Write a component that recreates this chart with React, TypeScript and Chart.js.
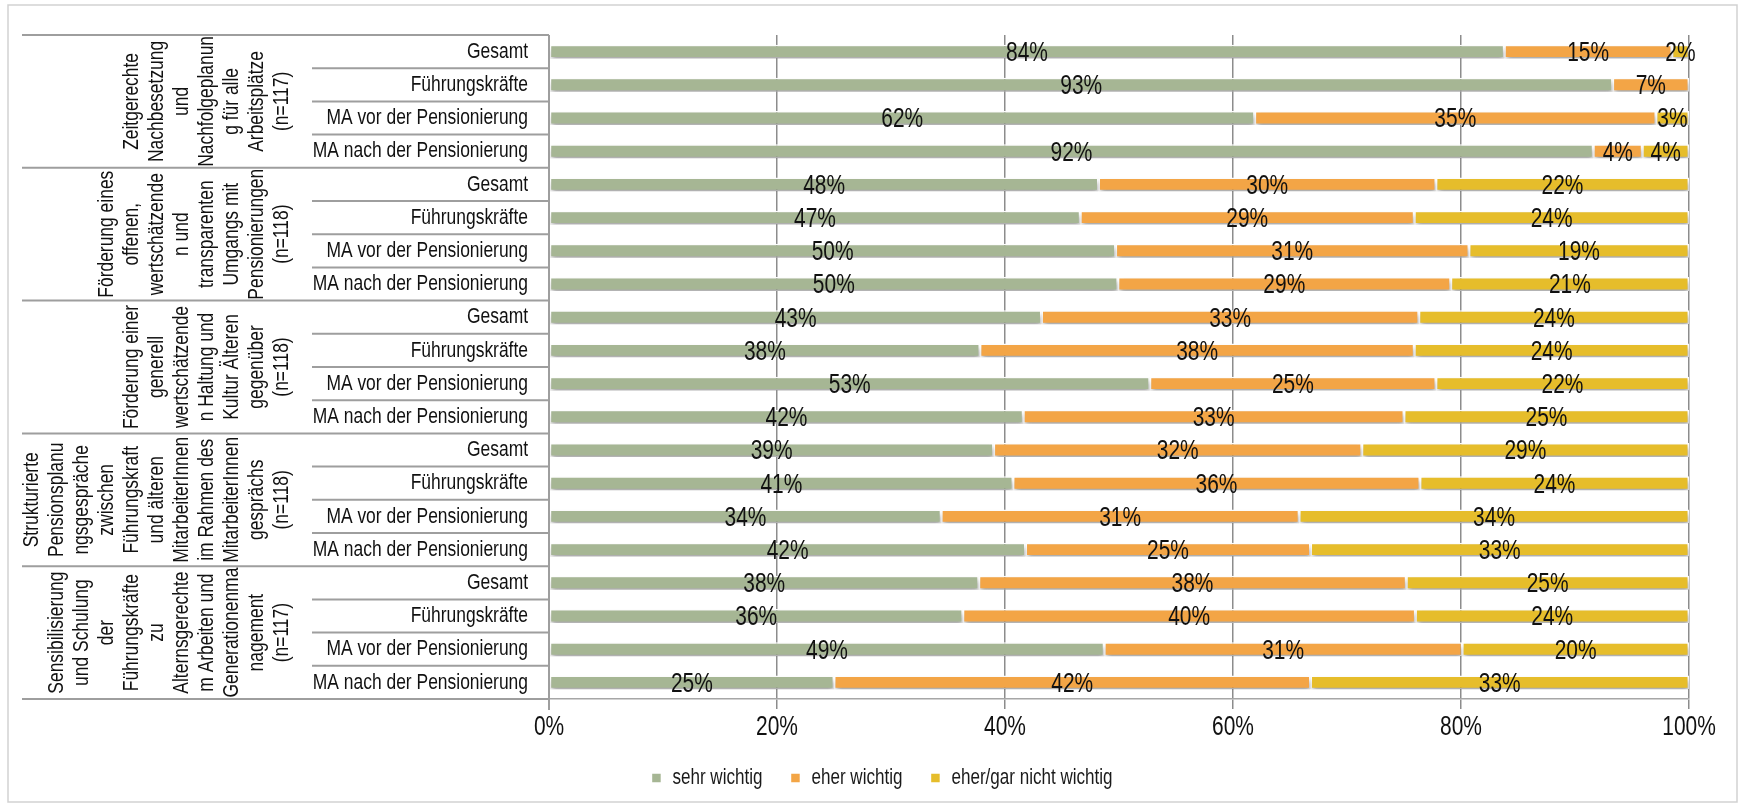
import React, { useEffect, useRef } from "react";
import { Chart, registerables } from "chart.js";

Chart.register(...registerables);

// ---------- data ----------
const rowLabels = [
  "Gesamt", "Führungskräfte", "MA vor der Pensionierung", "MA nach der Pensionierung",
  "Gesamt", "Führungskräfte", "MA vor der Pensionierung", "MA nach der Pensionierung",
  "Gesamt", "Führungskräfte", "MA vor der Pensionierung", "MA nach der Pensionierung",
  "Gesamt", "Führungskräfte", "MA vor der Pensionierung", "MA nach der Pensionierung",
  "Gesamt", "Führungskräfte", "MA vor der Pensionierung", "MA nach der Pensionierung",
];

const groupLabels: string[][] = [
  ["Zeitgerechte", "Nachbesetzung", "und", "Nachfolgeplanun", "g für alle", "Arbeitsplätze", "(n=117)"],
  ["Förderung eines", "offenen,", "wertschätzende", "n und", "transparenten", "Umgangs mit", "Pensionierungen", "(n=118)"],
  ["Förderung einer", "generell", "wertschätzende", "n Haltung und", "Kultur Älteren", "gegenüber", "(n=118)"],
  ["Strukturierte", "Pensionsplanu", "ngsgespräche", "zwischen", "Führungskraft", "und älteren", "MitarbeiterInnen", "im Rahmen des", "MitarbeiterInnen", "gesprächs", "(n=118)"],
  ["Sensibilisierung", "und Schulung", "der", "Führungskräfte", "zu", "Alternsgerechte", "m Arbeiten und", "Generationenma", "nagement", "(n=117)"],
];

const seriesNames = ["sehr wichtig", "eher wichtig", "eher/gar nicht wichtig"];

const sehrWichtig = [83.8, 93.3, 61.9, 91.6, 48.2, 46.6, 49.7, 49.9, 43.2, 37.8, 52.7, 41.6, 39.0, 40.7, 34.4, 41.8, 37.7, 36.3, 48.7, 25.0];
const eherWichtig = [14.7, 6.7, 35.2, 4.3, 29.6, 29.3, 31.0, 29.2, 33.1, 38.1, 25.1, 33.4, 32.3, 35.7, 31.4, 25.0, 37.5, 39.7, 31.4, 41.8];
const nichtWichtig = [1.5, 0, 2.9, 4.1, 22.2, 24.1, 19.3, 20.9, 23.7, 24.1, 22.2, 25.0, 28.7, 23.6, 34.2, 33.2, 24.8, 24.0, 19.9, 33.2];

const xTickValues = [0, 20, 40, 60, 80, 100];

// ---------- style ----------
const FONT = "'Liberation Sans', Arial, sans-serif";
const NARROW = 0.775; // horizontal compression to imitate the narrow face of the original
const COLORS = ["#A6B694", "#F3A546", "#E6BD2B"];
const GROUP_SIZE = 4;
const W = 1746;
const H = 807;

function makeNarrow(ctx: any, k: number) {
  if (!ctx || ctx.__narrow) return;
  ctx.__narrow = true;
  const ft = ctx.fillText.bind(ctx);
  const mt = ctx.measureText.bind(ctx);
  ctx.fillText = (text: string, x: number, y: number, maxWidth?: number) => {
    ctx.save();
    ctx.translate(x, y);
    ctx.scale(k, 1);
    if (maxWidth !== undefined && maxWidth !== null) ft(text, 0, 0, maxWidth / k);
    else ft(text, 0, 0);
    ctx.restore();
  };
  ctx.measureText = (text: string) => {
    const m = mt(text);
    return {
      width: m.width * k,
      actualBoundingBoxAscent: m.actualBoundingBoxAscent,
      actualBoundingBoxDescent: m.actualBoundingBoxDescent,
      actualBoundingBoxLeft: m.actualBoundingBoxLeft * k,
      actualBoundingBoxRight: m.actualBoundingBoxRight * k,
      fontBoundingBoxAscent: m.fontBoundingBoxAscent,
      fontBoundingBoxDescent: m.fontBoundingBoxDescent,
    };
  };
}

const shadowPlugin = {
  id: "barShadow",
  beforeDatasetsDraw(chart: any) {
    const c = chart.ctx;
    c.save();
    c.shadowColor = "rgba(0,0,0,0.34)";
    c.shadowBlur = 5;
    c.shadowOffsetX = 1;
    c.shadowOffsetY = 4;
  },
  afterDatasetsDraw(chart: any) {
    chart.ctx.restore();
  },
};

const valueLabelPlugin = {
  id: "valueLabels",
  afterDatasetsDraw(chart: any) {
    const c = chart.ctx;
    c.save();
    c.font = `27px ${FONT}`;
    c.fillStyle = "#111111";
    c.textAlign = "center";
    c.textBaseline = "middle";
    chart.data.datasets.forEach((ds: any, di: number) => {
      const meta = chart.getDatasetMeta(di);
      meta.data.forEach((el: any, i: number) => {
        const v = ds.data[i];
        if (!v || v < 0.5) return;
        const cx = (el.x + el.base) / 2;
        c.fillText(Math.round(v) + "%", cx, el.y + 2);
      });
    });
    c.restore();
  },
};

const tablePlugin = {
  id: "tableFrame",
  beforeDraw(chart: any) {
    const c = chart.ctx;
    c.save();
    c.strokeStyle = "#d2d2d2";
    c.lineWidth = 1.5;
    c.strokeRect(8, 5, 1729, 797);
    c.restore();
  },
  afterDraw(chart: any) {
    const c = chart.ctx;
    const area = chart.chartArea;
    const ys = chart.scales.y;
    const n = rowLabels.length;
    const band = (area.bottom - area.top) / n;
    c.save();
    c.strokeStyle = "#9e9e9e";
    c.lineWidth = 2;
    for (let i = 0; i <= n; i++) {
      const yy = i === n ? ys.getPixelForValue(n - 1) + band / 2 : ys.getPixelForValue(i) - band / 2;
      const x0 = i % GROUP_SIZE === 0 ? 22 : 312;
      c.beginPath();
      c.moveTo(x0, yy);
      c.lineTo(area.left, yy);
      c.stroke();
    }
    c.beginPath();
    c.moveTo(area.left, area.top);
    c.lineTo(area.left, area.bottom + 11);
    c.stroke();

    c.fillStyle = "#111111";
    c.font = `22.5px ${FONT}`;
    c.textAlign = "center";
    c.textBaseline = "middle";
    groupLabels.forEach((lines, g) => {
      const cy = (ys.getPixelForValue(g * GROUP_SIZE) + ys.getPixelForValue(g * GROUP_SIZE + GROUP_SIZE - 1)) / 2;
      const m = lines.length;
      lines.forEach((t, k) => {
        const x = 282 - (m - 1 - k) * 25;
        c.save();
        c.translate(x, cy);
        c.rotate(-Math.PI / 2);
        c.fillText(t, 0, 0);
        c.restore();
      });
    });
    c.restore();
  },
};

export default function App() {
  const ref = useRef<HTMLCanvasElement | null>(null);

  useEffect(() => {
    if (!ref.current) return;
    makeNarrow(ref.current.getContext("2d"), NARROW);
    const series = [sehrWichtig, eherWichtig, nichtWichtig];
    const chart = new Chart(ref.current, {
      type: "bar",
      data: {
        labels: rowLabels,
        datasets: series.map((d, i) => ({
          label: seriesNames[i],
          data: d,
          backgroundColor: COLORS[i],
          borderColor: "#ffffff",
          borderWidth: 1.5,
          borderSkipped: false,
          barPercentage: 0.42,
          categoryPercentage: 1,
        })),
      },
      options: {
        indexAxis: "y",
        responsive: false,
        animation: false,
        layout: { padding: { left: 75, right: 57, top: 35, bottom: 8 } },
        plugins: {
          legend: {
            position: "bottom",
            labels: {
              font: { family: FONT, size: 22 },
              color: "#1a1a1a",
              boxWidth: 10,
              boxHeight: 10,
              padding: 28,
            },
          },
          tooltip: { enabled: false },
        },
        scales: {
          x: {
            stacked: true,
            min: 0,
            max: 100,
            afterBuildTicks: (s: any) => {
              s.ticks = xTickValues.map((v) => ({ value: v }));
            },
            ticks: {
              callback: (v: any) => v + "%",
              font: { family: FONT, size: 27 },
              color: "#111111",
              padding: 2,
              maxRotation: 0,
            },
            grid: { color: "#8c8c8c", lineWidth: 1.5, tickLength: 10, drawTicks: true },
            border: { display: true, color: "#a6a6a6", width: 1.5 },
            afterFit: (s: any) => {
              s.height = 40;
            },
          },
          y: {
            stacked: true,
            grid: { display: false, drawTicks: false },
            border: { display: false },
            ticks: {
              font: { family: FONT, size: 22.5 },
              color: "#111111",
              padding: 21,
              autoSkip: false,
            },
            afterFit: (s: any) => {
              s.width = 474;
            },
          },
        },
      },
      plugins: [shadowPlugin, valueLabelPlugin, tablePlugin],
    } as any);
    return () => chart.destroy();
  }, []);

  return (
    <div style={{ position: "fixed", left: 0, top: 0, width: W, height: H, background: "#ffffff" }}>
      <canvas ref={ref} width={W} height={H} style={{ display: "block" }} />
    </div>
  );
}
